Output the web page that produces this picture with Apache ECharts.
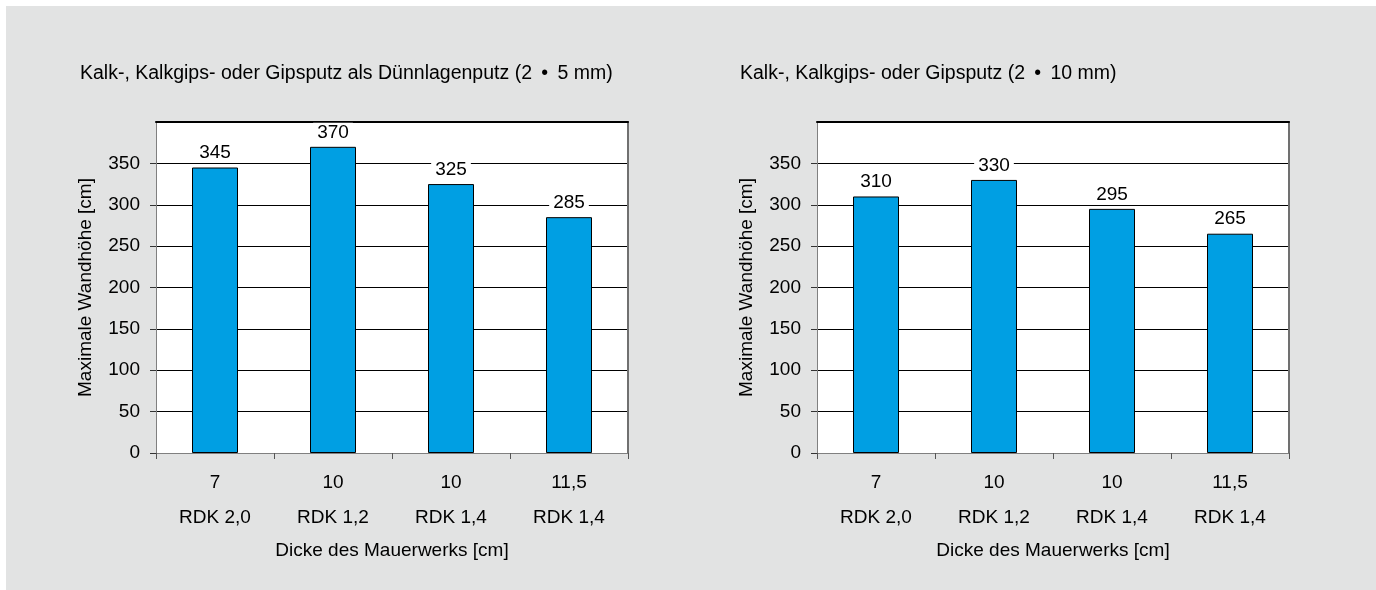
<!DOCTYPE html>
<html>
<head>
<meta charset="utf-8">
<script src="https://cdn.jsdelivr.net/npm/echarts@6/dist/echarts.min.js"></script>
<style>
  html, body { margin: 0; padding: 0; background: #ffffff; }
  #chart { position: absolute; left: 6px; top: 6px; width: 1370px; height: 584px; }
</style>
</head>
<body>
<div id="chart"></div>
<script>
// ---- data ----
const thickness = ['7', '10', '10', '11,5'];
const rdkClass = ['RDK 2,0', 'RDK 1,2', 'RDK 1,4', 'RDK 1,4'];
const valuesThinCoat = [345, 370, 325, 285];   // Dünnlagenputz 2 x 5 mm
const valuesThickCoat = [310, 330, 295, 265];  // Putz 2 x 10 mm
const titles = [
  'Kalk-, Kalkgips- oder Gipsputz als Dünnlagenputz (2 \u2009•\u2009 5 mm)',
  'Kalk-, Kalkgips- oder Gipsputz (2 \u2009•\u2009 10 mm)'
];
const yAxisName = 'Maximale Wandhöhe [cm]';
const xAxisName = 'Dicke des Mauerwerks [cm]';
const yMin = 0, yMax = 400, yStep = 50;

const categories = thickness.map((t, i) => t + '\n' + rdkClass[i]);

const FONT = '"Liberation Sans", Arial, sans-serif';
const FS = 19;
const gridLefts = [150, 811];
const allValues = [valuesThinCoat, valuesThickCoat];

const grids = [], xAxes = [], yAxes = [], series = [], titleArr = [];
const titleLefts = [74, 734];

gridLefts.forEach((gl, i) => {
  grids.push({
    left: gl, top: 116, width: 472, height: 331,
    show: true, backgroundColor: '#ffffff', borderWidth: 0
  });
  titleArr.push({
    text: titles[i], left: titleLefts[i], top: 58, padding: 0,
    textStyle: { fontFamily: FONT, fontSize: 19.5, fontWeight: 'normal', color: '#000' }
  });
  // bottom category axis
  xAxes.push({
    type: 'category', gridIndex: i, data: categories, position: 'bottom',
    axisLine: { show: true, lineStyle: { color: '#808080', width: 1 } },
    axisTick: { show: true, length: 6, interval: 0, lineStyle: { color: '#555' } },
    axisLabel: { interval: 0, fontFamily: FONT, fontSize: FS, color: '#000', lineHeight: 35, margin: 12 },
    name: xAxisName, nameLocation: 'middle', nameGap: 88,
    nameTextStyle: { fontFamily: FONT, fontSize: FS, color: '#000' }
  });
  // top border
  xAxes.push({
    type: 'category', gridIndex: i, data: categories, position: 'top',
    axisLine: { show: true, onZero: false, lineStyle: { color: '#000', width: 2 } },
    axisTick: { show: false }, axisLabel: { show: false }, splitLine: { show: false }
  });
  // left value axis
  yAxes.push({
    type: 'value', gridIndex: i, min: yMin, max: yMax, interval: yStep, position: 'left',
    axisLine: { show: true, lineStyle: { color: '#808080', width: 1 } },
    axisTick: { show: true, length: 6, lineStyle: { color: '#333' } },
    axisLabel: { fontFamily: FONT, fontSize: FS, color: '#000', margin: 16, showMaxLabel: false },
    splitLine: { show: true, lineStyle: { color: '#000', width: 1 } },
    name: yAxisName, nameLocation: 'middle', nameGap: 61,
    nameTextStyle: { fontFamily: FONT, fontSize: FS, color: '#000' }
  });
  // right border
  yAxes.push({
    type: 'value', gridIndex: i, min: yMin, max: yMax, interval: yStep, position: 'right',
    axisLine: { show: true, lineStyle: { color: '#707070', width: 2 } },
    axisTick: { show: false }, axisLabel: { show: false }, splitLine: { show: false }
  });
  series.push({
    type: 'bar', xAxisIndex: i * 2, yAxisIndex: i * 2, data: allValues[i],
    barWidth: 46,
    itemStyle: { color: '#009fe3', borderColor: '#000', borderWidth: 1 },
    label: {
      show: true, position: 'top', distance: 5,
      fontFamily: FONT, fontSize: FS, color: '#000',
      backgroundColor: '#ffffff', padding: [0, 4]
    },
    z: 5
  });
});

const chart = echarts.init(document.getElementById('chart'));
chart.setOption({
  backgroundColor: '#e2e3e3',
  animation: false,
  title: titleArr,
  grid: grids,
  xAxis: xAxes,
  yAxis: yAxes,
  series: series
});
</script>
</body>
</html>
